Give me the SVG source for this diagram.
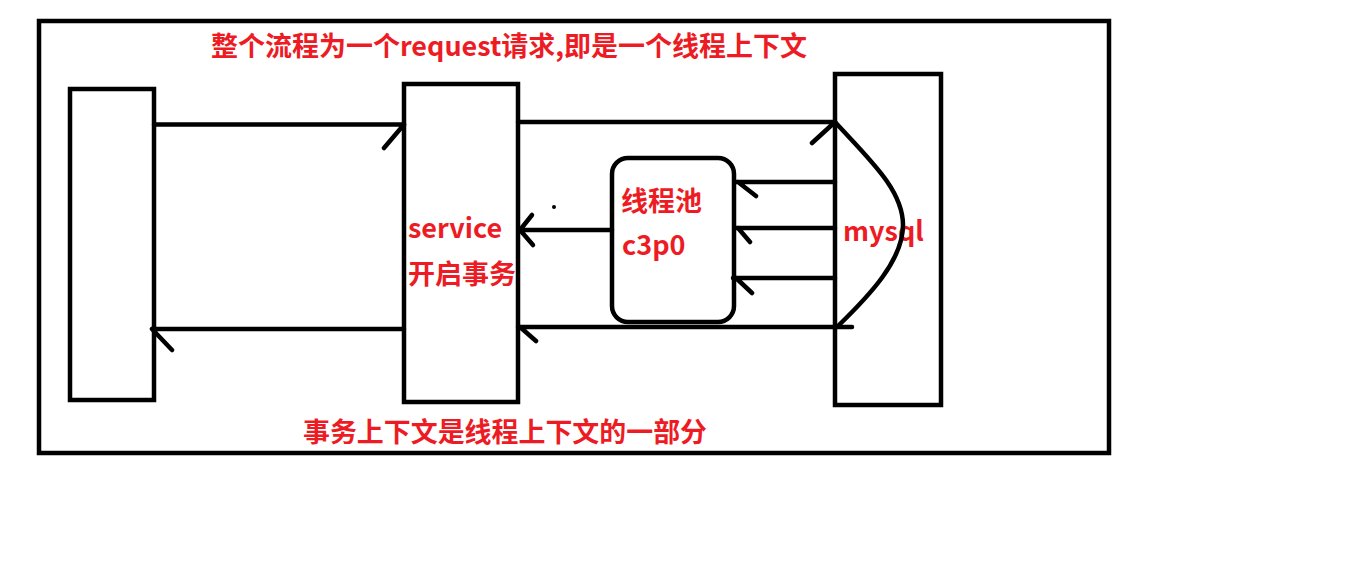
<svg xmlns="http://www.w3.org/2000/svg" width="1360" height="565" viewBox="0 0 1360 565">
<style>
.box{fill:none;stroke:#000;stroke-width:4.5}
.ln{fill:none;stroke:#000;stroke-width:4.5;stroke-linecap:round;stroke-linejoin:round}
.t{font-family:"Noto Sans CJK SC","Noto Sans",sans-serif;font-weight:bold;font-size:27px;fill:#ed1c24}
</style>
<rect width="1360" height="565" fill="#fff"/>
<g id="frame"><rect class="box" x="39" y="21" width="1070" height="432"/></g>
<g id="title"><text class="t" x="211" y="56" textLength="596" lengthAdjust="spacingAndGlyphs">整个流程为一个request请求,即是一个线程上下文</text></g>
<g id="client"><rect class="box" x="70" y="89" width="84" height="311"/></g>
<g id="service"><rect class="box" x="404" y="84" width="114" height="318"/>
<text class="t" x="408" y="238">service</text>
<text class="t" x="408" y="284">开启事务</text></g>
<g id="pool"><rect class="box" x="612" y="158" width="122" height="164" rx="16"/>
<text class="t" x="621" y="211">线程池</text>
<text class="t" x="622" y="255">c3p0</text></g>
<g id="mysql"><rect class="box" x="835" y="74" width="106" height="331"/>
<text class="t" x="843" y="241">mysql</text></g>
<g id="note"><text class="t" x="303" y="442" textLength="404" lengthAdjust="spacingAndGlyphs">事务上下文是线程上下文的一部分</text></g>
<g id="connectors">
<path class="ln" d="M154 124.5H404M404 124.5L384 148"/>
<path class="ln" d="M404 329H154M152 329L172 350"/>
<path class="ln" d="M518 122H835M835 122L812 143"/>
<path class="ln" d="M835 122C870 160 903 190 903 225C903 260 870 295 838 326"/>
<path class="ln" d="M852 327H518M520 327L536 341"/>
<path class="ln" d="M835 182H736M738 182L756 196"/>
<path class="ln" d="M835 228H736M738 228L750 242"/>
<path class="ln" d="M835 278H733M736 278L752 293"/>
<path class="ln" d="M612 230H520M520 230L532 215M520 230L533 245"/>
<circle cx="554" cy="207" r="2" fill="#000"/>
</g>
</svg>
